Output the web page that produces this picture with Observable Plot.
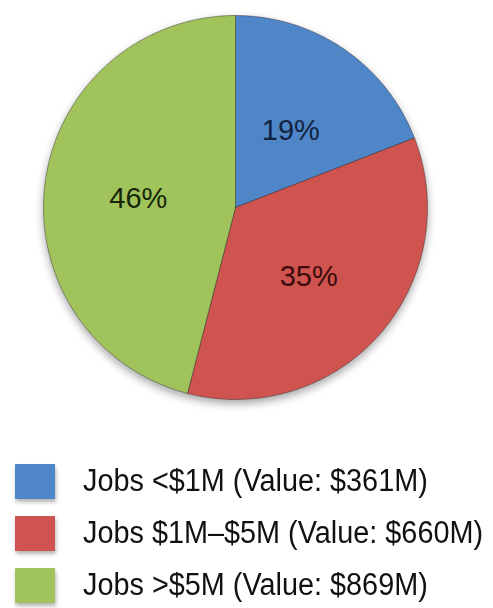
<!DOCTYPE html>
<html><head><meta charset="utf-8">
<script src="https://cdn.jsdelivr.net/npm/d3@7"></script>
<script src="https://cdn.jsdelivr.net/npm/@observablehq/plot@0.6"></script>
<style>
html,body{margin:0;padding:0;background:#fff;}
#wrap{position:relative;width:493px;height:608px;overflow:hidden;font-family:"Liberation Sans",Arial,sans-serif;}
#chart svg{display:block;overflow:visible;}
#legend{position:absolute;left:0;top:455px;}
.row{display:flex;align-items:center;height:52px;}
.sw{flex:none;width:40px;height:35px;margin-left:15px;margin-right:28px;box-shadow:1px 3px 4px rgba(0,0,0,0.3);}
.lab{font-size:31px;color:#111;white-space:nowrap;transform:scaleX(0.93);transform-origin:left center;}
</style></head>
<body><div id="wrap"><div id="chart"></div><div id="legend"></div></div>
<script>
const categories = ["Jobs <$1M", "Jobs $1M\u2013$5M", "Jobs >$5M"];
const values = [361, 660, 869]; // $M
const colors = ["#4F86C8", "#CF5350", "#A0C35B"];
const labelColors = ["#12233f", "#3d0c0c", "#17270a"];

const total = d3.sum(values);
const arcs = d3.pie().sort(null).value(d => d.v)(categories.map((c, i) => ({c, v: values[i], i})));

// slice outlines derived from pie angles (unit circle, y up, clockwise from top)
const points = [];
for (const a of arcs) {
  const n = Math.max(2, Math.ceil((a.endAngle - a.startAngle) / 0.01));
  points.push({cat: a.data.c, x: 0, y: 0});
  for (let k = 0; k <= n; k++) {
    const t = a.startAngle + (a.endAngle - a.startAngle) * k / n;
    points.push({cat: a.data.c, x: Math.sin(t), y: Math.cos(t)});
  }
  points.push({cat: a.data.c, x: 0, y: 0});
}
const labels = arcs.map(a => {
  const m = (a.startAngle + a.endAngle) / 2;
  return {i: a.data.i, x: 0.51 * Math.sin(m), y: 0.51 * Math.cos(m) - 0.02, text: Math.round(a.data.v / total * 100) + "%"};
});

const chart = Plot.plot({
  width: 493, height: 440, margin: 0,
  style: {background: "transparent"},
  x: {domain: [-1, 1], range: [43, 427], axis: null},
  y: {domain: [-1, 1], range: [399, 15], axis: null},
  color: {domain: categories, range: colors},
  marks: [
    Plot.line(points, {x: "x", y: "y", z: "cat", fill: "cat", stroke: "rgba(40,40,40,0.45)", strokeWidth: 1}),
    ...labels.map(l => Plot.text([l], {x: "x", y: "y", text: "text", fill: labelColors[l.i], fontSize: 29,
      fontFamily: "Liberation Sans, Arial, sans-serif", textAnchor: "middle", lineAnchor: "middle"}))
  ]
});
// soft drop shadow under the pie, as in the reference
const ns = "http://www.w3.org/2000/svg";
const defs = document.createElementNS(ns, "defs");
const filt = document.createElementNS(ns, "filter");
filt.setAttribute("id", "pieShadow");
filt.setAttribute("x", "-20%"); filt.setAttribute("y", "-20%");
filt.setAttribute("width", "140%"); filt.setAttribute("height", "140%");
const fe = document.createElementNS(ns, "feDropShadow");
fe.setAttribute("dx", "0"); fe.setAttribute("dy", "4");
fe.setAttribute("stdDeviation", "4");
fe.setAttribute("flood-color", "#000"); fe.setAttribute("flood-opacity", "0.35");
filt.appendChild(fe); defs.appendChild(filt);
chart.insertBefore(defs, chart.firstChild);
const lineGroup = chart.querySelector('g[aria-label="line"]');
if (lineGroup) lineGroup.setAttribute("filter", "url(#pieShadow)");
document.getElementById("chart").appendChild(chart);

const legend = document.getElementById("legend");
categories.forEach((c, i) => {
  const row = document.createElement("div");
  row.className = "row";
  const sw = document.createElement("div");
  sw.className = "sw";
  sw.style.background = colors[i];
  const lab = document.createElement("div");
  lab.className = "lab";
  lab.textContent = `${c} (Value: $${values[i]}M)`;
  row.appendChild(sw); row.appendChild(lab);
  legend.appendChild(row);
});
</script>
</body></html>
